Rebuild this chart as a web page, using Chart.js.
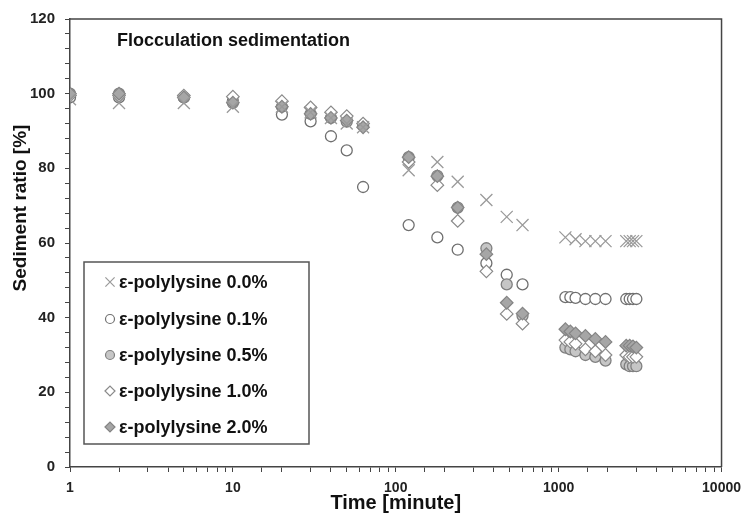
<!DOCTYPE html>
<html>
<head>
<meta charset="utf-8">
<script src="https://cdn.jsdelivr.net/npm/chart.js@4.4.0/dist/chart.umd.min.js"></script>
<style>
  html, body { margin: 0; padding: 0; background: #fff; }
  #wrap { width: 749px; height: 517px; }
</style>
</head>
<body>
<div id="wrap"><canvas id="chart" width="749" height="517"></canvas></div>
<script>
// time points [minute]
const times = [1, 2, 5, 10, 20, 30, 40, 50, 63, 120, 180, 240, 360, 480, 600,
  1100, 1180, 1270, 1460, 1680, 1940, 2600, 2730, 2860, 3000];

// sediment ratio [%] for each series
const pl00 = [98.5, 97.5, 97.5, 96.5, 96.5, 95, 93.5, 92, 91, 79.5, 81.7, 76.4, 71.5, 67, 64.8,
  61.5, null, 61, 60.5, 60.5, 60.5, 60.5, 60.5, 60.5, 60.5];
const pl01 = [99, 99, 99, 98, 94.4, 92.6, 88.6, 84.8, 75, 64.8, 61.5, 58.2, 54.6, 51.5, 48.9,
  45.5, 45.5, 45.3, 45, 45, 45, 45, 45, 45, 45];
const pl05 = [100, 100, 99, 97.5, 96.5, 94.6, 93.5, 92.5, 91.5, 83, 78, 69.5, 58.6, 48.9, 40.5,
  32, 31.5, 31, 30, 29.5, 28.5, 27.5, 27, 27, 27];
const pl10 = [99.5, 99.5, 99.5, 99.2, 98, 96.3, 95, 94, 92, 81.7, 75.5, 65.9, 52.4, 41, 38.4,
  34, 33.5, 33, 31.5, 31, 30, 30, 29.5, 29.5, 29.5];
const pl20 = [100, 100, 99, 97.6, 96.5, 94.6, 93.5, 92.8, 91, 83, 77.9, 69.5, 57, 44, 41.1,
  36.9, 36.3, 35.8, 35.1, 34.3, 33.5, 32.5, 32.5, 32.3, 32];

const seriesNames = ["ε-polylysine 0.0%", "ε-polylysine 0.1%", "ε-polylysine 0.5%",
  "ε-polylysine 1.0%", "ε-polylysine 2.0%"];
const xTickLabels = [1, 10, 100, 1000, 10000];

const toPoints = vals => times.map((t, i) => ({ x: t, y: vals[i] }));

const styles = [
  { pointStyle: "crossRot", pointRadius: 8.5, legendRadius: 6.5, pointBorderColor: "#9a9a9a", pointBackgroundColor: "#9a9a9a", pointBorderWidth: 1.3, order: 0 },
  { pointStyle: "circle", pointRadius: 5.5, legendRadius: 4.5, pointBorderColor: "#707070", pointBackgroundColor: "#fff", pointBorderWidth: 1.3, order: 4 },
  { pointStyle: "circle", pointRadius: 5.5, legendRadius: 4.5, pointBorderColor: "#808080", pointBackgroundColor: "#c6c6c6", pointBorderWidth: 1.3, order: 3 },
  { pointStyle: "rectRot", pointRadius: 6.3, legendRadius: 5, pointBorderColor: "#8a8a8a", pointBackgroundColor: "#fff", pointBorderWidth: 1.2, order: 2 },
  { pointStyle: "rectRot", pointRadius: 6.3, legendRadius: 5, pointBorderColor: "#858585", pointBackgroundColor: "#a6a6a6", pointBorderWidth: 1.2, order: 1 }
];

const allVals = [pl00, pl01, pl05, pl10, pl20];
const datasets = allVals.map((v, i) => Object.assign({
  label: seriesNames[i],
  data: toPoints(v),
  showLine: false
}, styles[i]));

// frame, inner title, y title and legend box
const extras = {
  id: "extras",
  afterDraw(chart) {
    const c = chart.ctx;
    const a = chart.chartArea;
    c.save();
    c.strokeStyle = "#444";
    c.lineWidth = 1.5;
    c.beginPath();
    c.moveTo(a.left, a.top);
    c.lineTo(a.right, a.top);
    c.lineTo(a.right, a.bottom);
    c.stroke();

    c.fillStyle = "#111";
    c.font = "bold 18px 'Liberation Sans', Arial, sans-serif";
    c.textBaseline = "middle";
    c.textAlign = "left";
    c.fillText("Flocculation sedimentation", 117, 41);

    // y axis title
    c.save();
    c.translate(21, 208);
    c.rotate(-Math.PI / 2);
    c.textAlign = "center";
    c.font = "bold 19px 'Liberation Sans', Arial, sans-serif";
    c.fillText("Sediment ratio [%]", 0, 0);
    c.restore();

    // legend
    c.strokeStyle = "#555";
    c.lineWidth = 1.5;
    c.strokeRect(84, 262, 225, 182);
    const rows = [282, 319, 355, 391, 427];
    chart.data.datasets.forEach((ds, i) => {
      c.strokeStyle = ds.pointBorderColor;
      c.fillStyle = ds.pointBackgroundColor;
      c.lineWidth = 1.2;
      Chart.helpers.drawPoint(c, { pointStyle: ds.pointStyle, radius: ds.legendRadius, rotation: 0, borderWidth: 1.2 }, 110, rows[i]);
      c.fillStyle = "#111";
      c.font = "bold 18px 'Liberation Sans', Arial, sans-serif";
      c.textAlign = "left";
      c.fillText(ds.label, 119, rows[i] + 1);
    });
    c.restore();
  }
};

new Chart(document.getElementById("chart"), {
  type: "scatter",
  data: { datasets },
  plugins: [extras],
  options: {
    responsive: false,
    animation: false,
    layout: { padding: { left: 0, right: 26, top: 16, bottom: 0 } },
    plugins: { legend: { display: false }, tooltip: { enabled: false } },
    scales: {
      x: {
        type: "logarithmic",
        min: 1,
        max: 10000,
        afterFit: s => { s.height = 50; },
        border: { color: "#444", width: 1.5 },
        grid: { drawOnChartArea: false, drawTicks: true, tickLength: 5, color: "#444" },
        ticks: {
          autoSkip: false,
          maxRotation: 0,
          padding: 8,
          color: "#222",
          font: { family: "'Liberation Sans', Arial, sans-serif", size: 14, weight: "bold" },
          callback: v => xTickLabels.includes(v) ? String(v) : ""
        },
        title: {
          display: true,
          text: "Time [minute]",
          color: "#111",
          padding: { top: 0, bottom: 2 },
          font: { family: "'Liberation Sans', Arial, sans-serif", size: 20, weight: "bold" }
        }
      },
      y: {
        min: 0,
        max: 120,
        afterFit: s => { s.width = 70; },
        border: { color: "#444", width: 1.5 },
        grid: { drawOnChartArea: false, drawTicks: true, tickLength: 5, color: "#444" },
        ticks: {
          stepSize: 4,
          autoSkip: false,
          padding: 10,
          color: "#222",
          font: { family: "'Liberation Sans', Arial, sans-serif", size: 15, weight: "bold" },
          callback: v => v % 20 === 0 ? String(v) : ""
        }
      }
    }
  }
});
</script>
</body>
</html>
